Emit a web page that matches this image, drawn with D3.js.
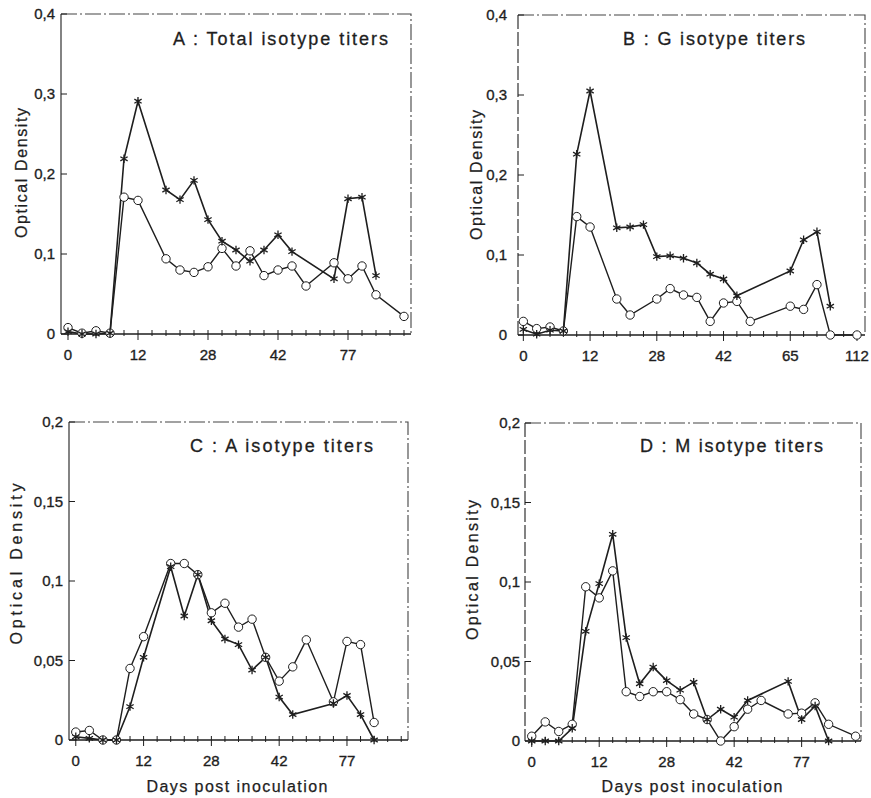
<!DOCTYPE html>
<html>
<head>
<meta charset="utf-8">
<script src="https://cdn.jsdelivr.net/npm/d3@7"></script>
<style>
  body { margin: 0; background: #fff; }
  svg { display: block; font-family: "Liberation Sans", Arial, sans-serif; }
</style>
</head>
<body>
<svg id="chart" width="871" height="798"></svg>
<script>
// x is the sampling index; every 5th sample carries a day label
const tickIdx = [0, 5, 10, 15, 20];
const tickIdxB = [0, 5, 10, 15, 20, 25];
const dayLabels = ["0", "12", "28", "42", "77"];
const dayLabelsB = ["0", "12", "28", "42", "65", "112"];
const yTicksAB = [0, 0.1, 0.2, 0.3, 0.4];
const yTicksCD = [0, 0.05, 0.1, 0.15, 0.2];

// optical density per sample (null = no sample, the line just joins across)
const starA = [0.003, 0, 0, 0.001, 0.219, 0.291, null, 0.180, 0.168, 0.192, 0.143, 0.116, 0.105,
  0.091, 0.105, 0.124, 0.103, null, null, 0.069, 0.169, 0.171, 0.073, null, null];
const circA = [0.008, 0.001, 0.004, 0.001, 0.171, 0.167, null, 0.094, 0.080, 0.077, 0.084, 0.107, 0.085,
  0.104, 0.073, 0.080, 0.085, 0.060, null, 0.089, 0.069, 0.085, 0.049, null, 0.022];

const starB = [0.007, 0.001, 0.006, 0.005, 0.226, 0.305, null, 0.134, 0.135, 0.138, 0.098, 0.099, 0.096,
  0.090, 0.076, 0.070, 0.049, null, null, null, 0.080, 0.119, 0.129, 0.036, null, null];
const circB = [0.017, 0.008, 0.010, 0.005, 0.148, 0.135, null, 0.045, 0.025, null, 0.045, 0.058, 0.050,
  0.047, 0.017, 0.040, 0.042, 0.017, null, null, 0.036, 0.032, 0.063, 0, null, 0];

const starC = [0.002, 0.001, 0, 0, 0.021, 0.052, null, 0.109, 0.078, 0.104, 0.075, 0.0635, 0.060,
  0.044, 0.052, 0.027, 0.016, null, null, 0.023, 0.028, 0.016, 0, null, null];
const circC = [0.005, 0.006, 0, 0, 0.045, 0.065, null, 0.111, 0.111, 0.104, 0.080, 0.086, 0.071,
  0.076, 0.052, 0.037, 0.046, 0.063, null, 0.024, 0.062, 0.060, 0.011, null, null];

const starD = [0, 0, 0, 0.008, 0.069, 0.099, 0.130, 0.065, 0.036, 0.0465, 0.038, 0.032, 0.037,
  0.0135, 0.020, 0.015, 0.0255, null, null, 0.0375, 0.0135, 0.022, 0, null, null];
const circD = [0.003, 0.012, 0.006, 0.0105, 0.097, 0.090, 0.107, 0.031, 0.028, 0.031, 0.031, 0.026, 0.017,
  0.0135, 0, 0.009, 0.020, 0.0255, null, 0.017, 0.0175, 0.024, 0.0105, null, 0.003];

const panels = [
  { title: "A : Total isotype titers", star: starA, circ: circA, ticks: tickIdx, labels: dayLabels,
    yTicks: yTicksAB, yMax: 0.4, box: { l: 61, r: 411, t: 14, b: 334 }, xDom: [-0.5, 24.5],
    tx: 173, ty: 45, tw: 215, ylab: { x: 21, y: 173, w: 130 }, gap: 6, leftDash: false },
  { title: "B : G isotype titers", star: starB, circ: circB, ticks: tickIdxB, labels: dayLabelsB,
    yTicks: yTicksAB, yMax: 0.4, box: { l: 518, r: 865, t: 15, b: 335 }, xDom: [-0.4, 25.6],
    tx: 623, ty: 45, tw: 182, ylab: { x: 476, y: 175, w: 130 }, gap: 11, leftDash: true },
  { title: "C : A isotype titers", star: starC, circ: circC, ticks: tickIdx, labels: dayLabels,
    yTicks: yTicksCD, yMax: 0.2, box: { l: 69, r: 408, t: 422, b: 740 }, xDom: [-0.5, 24.5],
    tx: 190, ty: 452, tw: 183, ylab: { x: 16, y: 564, w: 161 }, gap: 6, leftDash: false,
    xTitle: { x: 237, y: 792, w: 181 } },
  { title: "D : M isotype titers", star: starD, circ: circD, ticks: tickIdx, labels: dayLabels,
    yTicks: yTicksCD, yMax: 0.2, box: { l: 525, r: 861, t: 423, b: 741 }, xDom: [-0.5, 24.4],
    tx: 640, ty: 452, tw: 183, ylab: { x: 472, y: 570, w: 140 }, gap: 5, leftDash: true,
    xTitle: { x: 692, y: 792, w: 181 } }
];

const ink = "#1e1e1e";
const svg = d3.select("#chart");
const fmt = v => v === 0 ? "0" : d3.format("~g")(v).replace(".", ",");

function starPath(r) {
  const c = r * 0.87, h = r / 2;
  return `M0,${-r}L0,${r}M${-c},${-h}L${c},${h}M${-c},${h}L${c},${-h}`;
}

panels.forEach(p => {
  const b = p.box;
  const x = d3.scaleLinear().domain(p.xDom).range([b.l, b.r]);
  const y = d3.scaleLinear().domain([0, p.yMax]).range([b.b, b.t]);
  const g = svg.append("g");
  const n = p.star.length;

  // frame: top and right are dash-dot
  g.append("path")
    .attr("d", `M${b.l},${b.t}H${b.r}V${b.b}`)
    .attr("fill", "none").attr("stroke", "#444").attr("stroke-width", 1.1)
    .attr("stroke-dasharray", "16,3,2,3");
  g.append("line")
    .attr("x1", b.l).attr("x2", b.l).attr("y1", b.t).attr("y2", b.b)
    .attr("stroke", ink).attr("stroke-width", 1.1)
    .attr("stroke-dasharray", p.leftDash ? "14,3" : null);
  g.append("line")
    .attr("x1", b.l).attr("x2", b.r).attr("y1", b.b).attr("y2", b.b)
    .attr("stroke", ink).attr("stroke-width", 1.3);

  // x ticks at every sample, longer ones under the labels
  g.selectAll(".xt").data(d3.range(n)).join("line")
    .attr("x1", d => x(d)).attr("x2", d => x(d))
    .attr("y1", b.b - 4)
    .attr("y2", d => p.ticks.includes(d) ? b.b + 6 : b.b + 2)
    .attr("stroke", ink).attr("stroke-width", 1);
  g.selectAll(".xl").data(p.ticks).join("text")
    .attr("x", d => x(d)).attr("y", b.b + 26)
    .attr("text-anchor", "middle").attr("font-size", 15)
    .attr("fill", ink).attr("stroke", ink).attr("stroke-width", 0.35)
    .text((d, i) => p.labels[i]);

  // y ticks
  g.selectAll(".yt").data(p.yTicks).join("line")
    .attr("x1", b.l).attr("x2", b.l + 6)
    .attr("y1", d => y(d)).attr("y2", d => y(d))
    .attr("stroke", ink).attr("stroke-width", 1);
  g.selectAll(".yl").data(p.yTicks).join("text")
    .attr("x", b.l - p.gap).attr("y", d => y(d)).attr("dy", "0.36em")
    .attr("text-anchor", "end").attr("font-size", 15)
    .attr("fill", ink).attr("stroke", ink).attr("stroke-width", 0.35)
    .text(d => fmt(d));

  // titles
  g.append("text")
    .attr("x", p.tx).attr("y", p.ty).attr("font-size", 18)
    .attr("textLength", p.tw).attr("lengthAdjust", "spacing")
    .attr("fill", ink).attr("stroke", ink).attr("stroke-width", 0.3)
    .text(p.title);
  g.append("text")
    .attr("transform", `translate(${p.ylab.x},${p.ylab.y}) rotate(-90)`)
    .attr("text-anchor", "middle").attr("dy", "0.35em").attr("font-size", 16)
    .attr("textLength", p.ylab.w).attr("lengthAdjust", "spacing")
    .attr("fill", ink).attr("stroke", ink).attr("stroke-width", 0.25)
    .text("Optical Density");
  if (p.xTitle) {
    g.append("text")
      .attr("x", p.xTitle.x).attr("y", p.xTitle.y)
      .attr("text-anchor", "middle").attr("font-size", 16)
      .attr("textLength", p.xTitle.w).attr("lengthAdjust", "spacing")
      .attr("fill", ink).attr("stroke", ink).attr("stroke-width", 0.25)
      .text("Days post inoculation");
  }

  const line = d3.line().x(d => x(d.i)).y(d => y(d.v));
  const pts = arr => arr.map((v, i) => ({ i, v })).filter(d => d.v !== null);
  const circPts = pts(p.circ), starPts = pts(p.star);

  g.append("path").attr("d", line(circPts))
    .attr("fill", "none").attr("stroke", ink).attr("stroke-width", 1.4);
  g.append("path").attr("d", line(starPts))
    .attr("fill", "none").attr("stroke", ink).attr("stroke-width", 1.6);

  g.selectAll(".cm").data(circPts).join("circle")
    .attr("cx", d => x(d.i)).attr("cy", d => y(d.v)).attr("r", 4.2)
    .attr("fill", "#fff").attr("stroke", ink).attr("stroke-width", 1);
  g.selectAll(".sm").data(starPts).join("path")
    .attr("transform", d => `translate(${x(d.i)},${y(d.v)})`)
    .attr("d", starPath(4.2))
    .attr("fill", "none").attr("stroke", ink).attr("stroke-width", 1.3);
});
</script>
</body>
</html>
